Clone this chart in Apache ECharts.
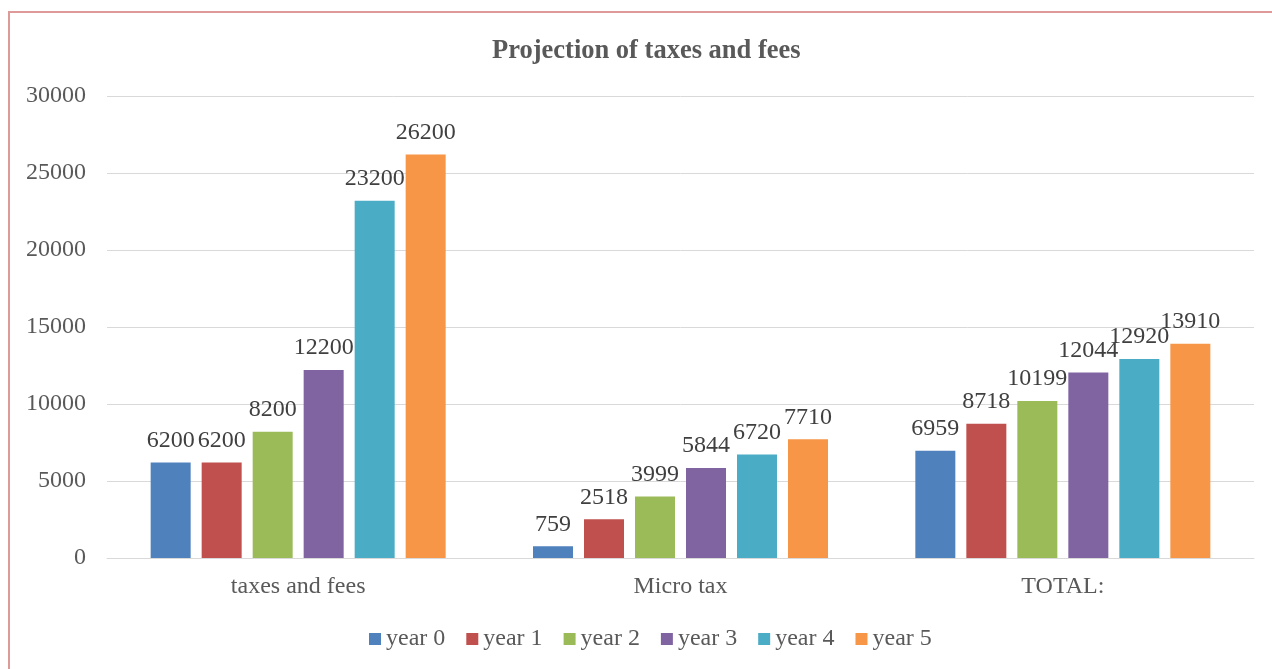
<!DOCTYPE html>
<html><head><meta charset="utf-8">
<script src="https://cdn.jsdelivr.net/npm/echarts@6/dist/echarts.min.js"></script>
<style>
html,body{margin:0;padding:0;background:#fff;}
#frame{position:absolute;left:8px;top:11px;width:1300px;height:700px;border:2px solid #dd9a98;box-sizing:border-box;}
#c{position:absolute;left:0;top:0;width:1272px;height:669px;}
</style></head>
<body>
<div id="frame"></div>
<div id="c"></div>
<script>
const categories = ['taxes and fees', 'Micro tax', 'TOTAL:'];
const seriesNames = ['year 0', 'year 1', 'year 2', 'year 3', 'year 4', 'year 5'];
const year0 = [6200, 759, 6959];
const year1 = [6200, 2518, 8718];
const year2 = [8200, 3999, 10199];
const year3 = [12200, 5844, 12044];
const year4 = [23200, 6720, 12920];
const year5 = [26200, 7710, 13910];
const yTicks = [0, 5000, 10000, 15000, 20000, 25000, 30000];

const values = [year0, year1, year2, year3, year4, year5];
const colors = ['#4F81BD', '#C0504D', '#9BBB59', '#8064A2', '#4BACC6', '#F79646'];
const font = '"Liberation Serif", "Times New Roman", serif';

const chart = echarts.init(document.getElementById('c'), null, {renderer: 'canvas'});
chart.setOption({
  animation: false,
  color: colors,
  title: {
    text: 'Projection of taxes and fees',
    left: 492, top: 38, padding: 0,
    textStyle: {fontFamily: font, fontSize: 26.5, fontWeight: 'bold', color: '#595959'}
  },
  legend: {
    bottom: 18, left: 369, padding: 0,
    itemWidth: 12, itemHeight: 12, itemGap: 21,
    icon: 'rect',
    textStyle: {fontFamily: font, fontSize: 24, color: '#595959'},
    data: seriesNames
  },
  grid: {left: 107, right: 18, top: 96, bottom: 111, containLabel: false},
  xAxis: {
    type: 'category', data: categories,
    axisLine: {lineStyle: {color: '#d9d9d9', width: 1}},
    axisTick: {show: false},
    axisLabel: {fontFamily: font, fontSize: 24, color: '#595959', margin: 17}
  },
  yAxis: {
    type: 'value', min: yTicks[0], max: yTicks[yTicks.length - 1], interval: 5000,
    axisLine: {show: false}, axisTick: {show: false},
    splitLine: {lineStyle: {color: '#d9d9d9', width: 1}},
    axisLabel: {fontFamily: font, fontSize: 24, color: '#595959', margin: 21, formatter: v => String(v)}
  },
  series: seriesNames.map((n, i) => ({
    name: n, type: 'bar', data: values[i],
    barWidth: 40, barGap: '27.5%',
    label: {show: true, position: 'top', distance: 10, fontFamily: font, fontSize: 24, color: '#404040'}
  }))
});
</script>
</body></html>
